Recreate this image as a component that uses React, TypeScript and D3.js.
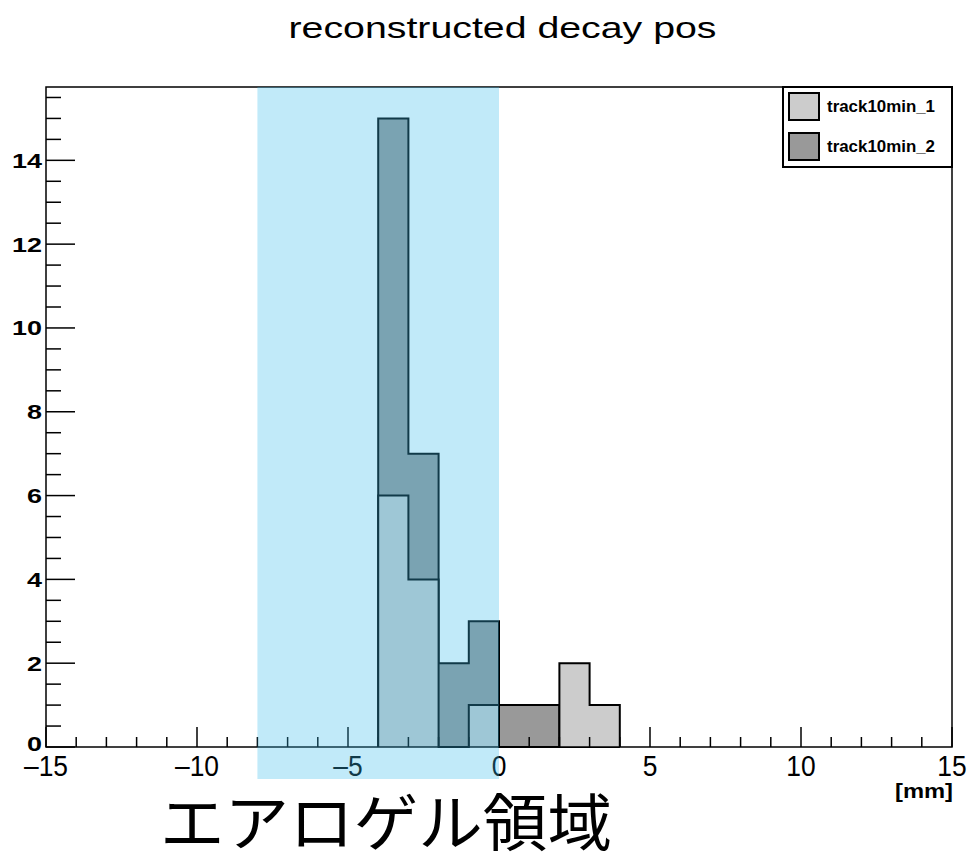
import React from "react";
import * as d3 from "d3";

// Bin edges (mm), width 1
const binLow = [-4, -3, -2, -1, 0, 1, 2, 3];
// Entries per bin
const track10min1 = [6, 4, 0, 1, 0, 0, 2, 1];
const track10min2 = [15, 7, 2, 3, 1, 1, 0, 0];
const seriesNames = ["track10min_1", "track10min_2"];
const seriesFill = ["#cccccc", "#999999"];
const xTicks = [-15, -10, -5, 0, 5, 10, 15];
const yTicks = [0, 2, 4, 6, 8, 10, 12, 14];
const aerogelRange = [-8, 0];

const W = 973;
const H = 859;
const M = { left: 46, right: 952, top: 87, bottom: 747 };

export default function App() {
  const x = d3.scaleLinear().domain([-15, 15]).range([M.left, M.right]);
  const y = d3.scaleLinear().domain([0, 15.75]).range([M.bottom, M.top]);

  // Histogram contour: closed step outline down to the baseline
  const stepPath = (vals: number[]) => {
    const pts: [number, number][] = [];
    pts.push([x(binLow[0]), y(0)]);
    vals.forEach((v, i) => {
      pts.push([x(binLow[i]), y(v)]);
      pts.push([x(binLow[i] + 1), y(v)]);
    });
    pts.push([x(binLow[binLow.length - 1] + 1), y(0)]);
    return d3.line()(pts) as string;
  };

  const xMinor = d3.range(-15, 15.01, 1);
  const yMinor = d3.range(0, 15.75, 0.5);
  const font = "'Liberation Sans', Arial, Helvetica, sans-serif";

  const hists = [
    { vals: track10min2, fill: seriesFill[1] },
    { vals: track10min1, fill: seriesFill[0] },
  ];

  return (
    <svg
      width={W}
      height={H}
      style={{ position: "fixed", left: 0, top: 0, background: "#fff" }}
    >
      <rect x={0} y={0} width={W} height={H} fill="#fff" />
      {/* title */}
      <text
        x={(287 + 718) / 2}
        y={38}
        fontFamily={font}
        fontSize={30}
        textAnchor="middle"
        textLength={428}
        lengthAdjust="spacingAndGlyphs"
        fill="#000"
      >
        reconstructed decay pos
      </text>

      {/* histograms */}
      {hists.map((h, k) => (
        <path
          key={k}
          d={stepPath(h.vals)}
          fill={h.fill}
          stroke="#000"
          strokeWidth={2}
        />
      ))}

      {/* frame */}
      <rect
        x={M.left}
        y={M.top}
        width={M.right - M.left}
        height={M.bottom - M.top}
        fill="none"
        stroke="#000"
        strokeWidth={1.5}
      />

      {/* x axis ticks */}
      {xMinor.map((t) => {
        const major = t % 5 === 0;
        return (
          <line
            key={"xt" + t}
            x1={x(t)}
            x2={x(t)}
            y1={M.bottom}
            y2={M.bottom - (major ? 20 : 10)}
            stroke="#000"
            strokeWidth={1.5}
          />
        );
      })}
      {xTicks.map((t) => (
        <text
          key={"xl" + t}
          x={x(t)}
          y={776}
          fontFamily={font}
          fontSize={30}
          textAnchor="middle"
          fill="#000"
          transform={`translate(${x(t)},0) scale(0.88,1) translate(${-x(t)},0)`}
        >
          {t < 0 ? "\u2013" + Math.abs(t) : String(t)}
        </text>
      ))}

      {/* y axis ticks */}
      {yMinor.map((t) => {
        const major = t % 2 === 0;
        return (
          <line
            key={"yt" + t}
            x1={M.left}
            x2={M.left + (major ? 29 : 15)}
            y1={y(t)}
            y2={y(t)}
            stroke="#000"
            strokeWidth={1.5}
          />
        );
      })}
      {yTicks.map((t) => (
        <text
          key={"yl" + t}
          x={42}
          y={y(t) + (t === 0 ? 4 : 7.5)}
          fontFamily={font}
          fontSize={21}
          fontWeight="bold"
          textAnchor="end"
          textLength={String(t).length * 15}
          lengthAdjust="spacingAndGlyphs"
          fill="#000"
        >
          {t}
        </text>
      ))}

      {/* axis unit */}
      <text
        x={953}
        y={798}
        fontFamily={font}
        fontSize={21}
        fontWeight="bold"
        textAnchor="end"
        textLength={58}
        lengthAdjust="spacingAndGlyphs"
        fill="#000"
      >
        [mm]
      </text>

      {/* legend */}
      <rect x={783} y={M.top} width={169} height={80} fill="#fff" stroke="#000" strokeWidth={2} />
      {seriesNames.map((name, i) => (
        <g key={name}>
          <rect
            x={789}
            y={93 + i * 40}
            width={30}
            height={27}
            fill={seriesFill[i]}
            stroke="#000"
            strokeWidth={2}
          />
          <text
            x={827}
            y={112 + i * 40}
            fontFamily={font}
            fontSize={17}
            fontWeight="bold"
            textLength={108}
            lengthAdjust="spacingAndGlyphs"
            fill="#000"
          >
            {name}
          </text>
        </g>
      ))}

      {/* aerogel band overlay */}
      <rect
        x={x(aerogelRange[0])}
        y={M.top}
        width={x(aerogelRange[1]) - x(aerogelRange[0])}
        height={779 - M.top}
        fill="rgb(55,187,235)"
        fillOpacity={0.31}
      />

      <text
        x={160}
        y={846}
        fontFamily="'Noto Sans CJK JP', sans-serif"
        fontSize={62}
        textLength={452}
        lengthAdjust="spacingAndGlyphs"
        fill="#000"
      >
        エアロゲル領域
      </text>
    </svg>
  );
}
